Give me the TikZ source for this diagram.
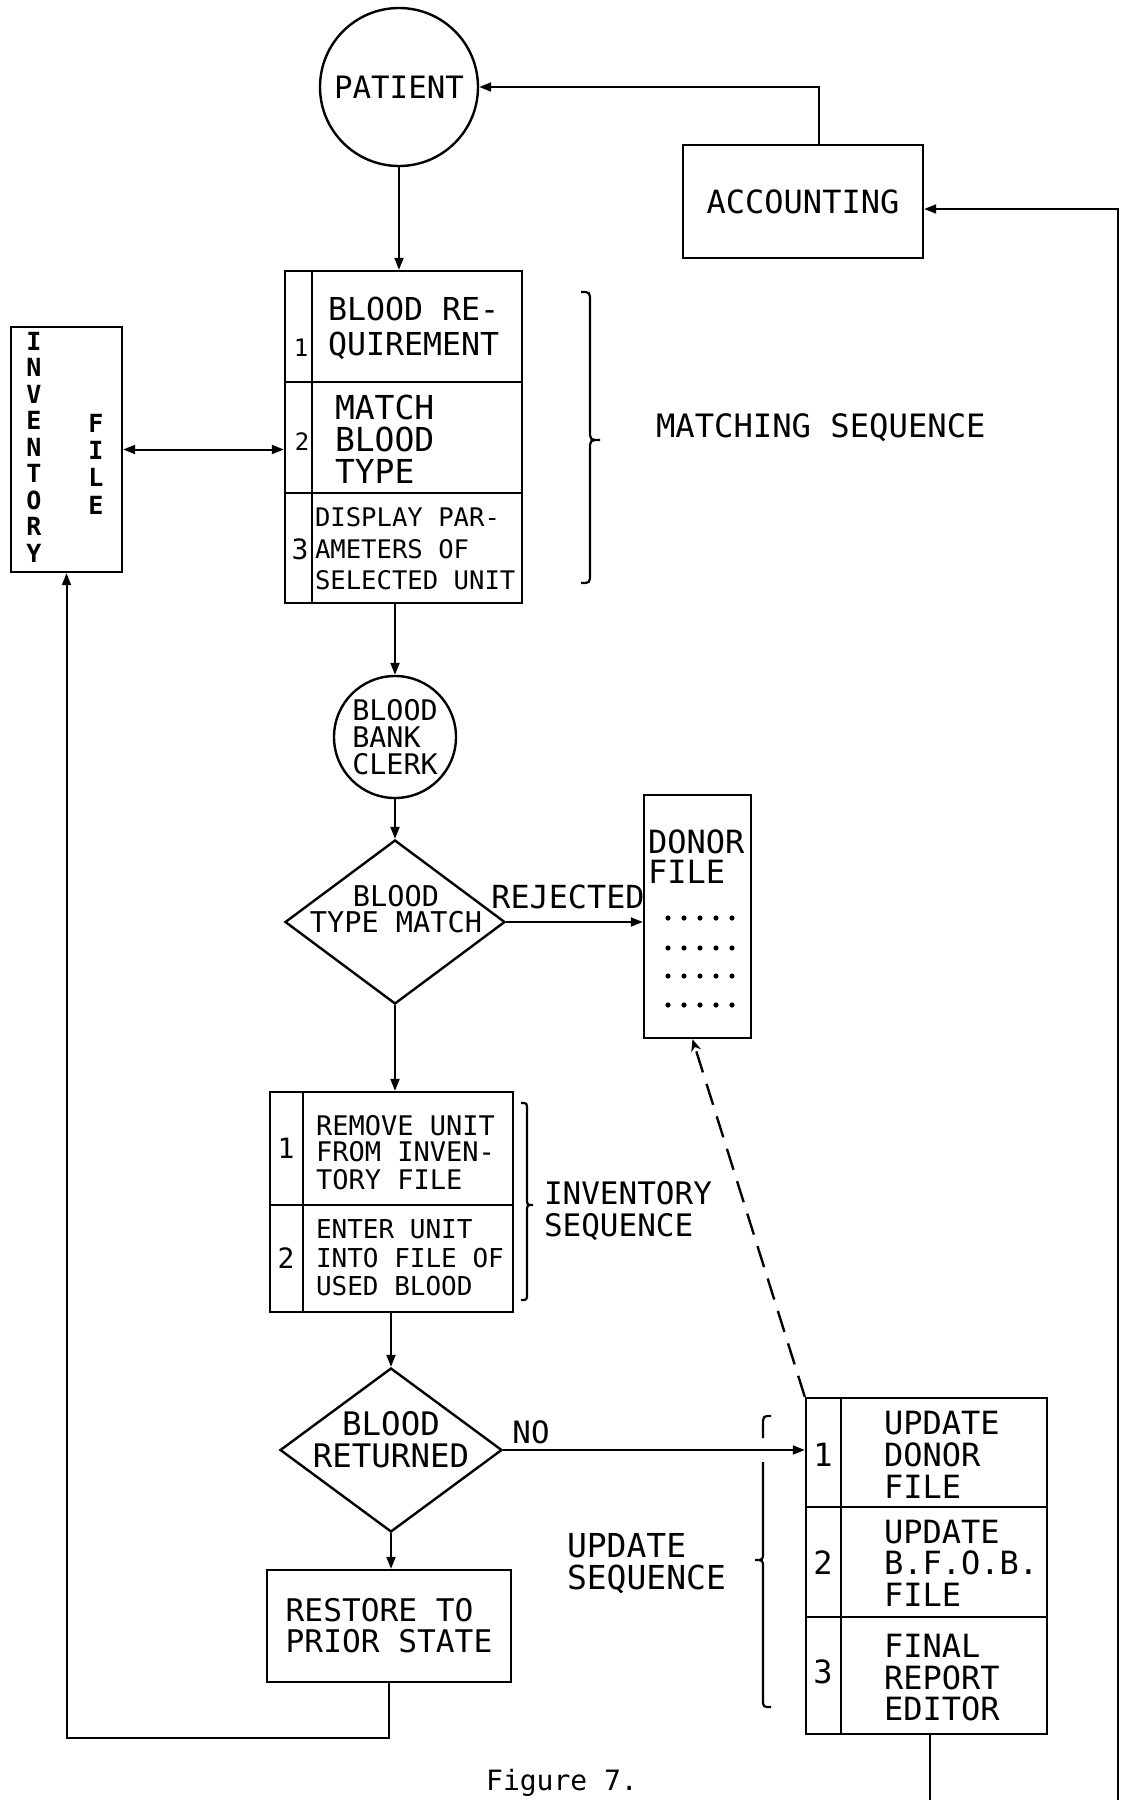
\documentclass[tikz,border=0pt]{standalone}
\usepackage{fontspec}
\setmainfont{DejaVu Sans Mono}
\usetikzlibrary{shapes.geometric,arrows.meta,fit}
\newcommand{\myfs}[2]{\fontsize{#1pt}{#2pt}\selectfont}
\begin{document}
\begin{tikzpicture}[x=0.5pt,y=-0.5pt, line width=1pt,
  box/.style={draw, line width=1.2pt, inner sep=0pt},
  arr/.style={-{Triangle[length=6pt,width=4.5pt]}},
  dblarr/.style={{Triangle[length=6pt,width=4.5pt]}-{Triangle[length=6pt,width=4.5pt]}},
  dasharr/.style={dash pattern=on 11pt off 6pt, line width=1.2pt, -{Stealth[length=6pt,width=5pt]}},
  txt/.style={inner sep=0pt, align=left},
  brc/.style={line width=1.1pt}]
\useasboundingbox[fill=white] (0,0) rectangle (1129,1800);

% ---------- top ----------
\node[box, circle, minimum size=79pt, font=\myfs{15.4}{16}] (patient) at (399,87) {PATIENT};
\node[box, minimum width=120pt, minimum height=56.5pt, font=\myfs{16}{17}] (acc) at (803,201.5) {ACCOUNTING};

% ---------- matching sequence box ----------
\node[box, fit={(285,271) (522,603)}] (mbox) {};
\draw (312,271) -- (312,603);
\draw (285,382) -- (522,382);
\draw (285,493) -- (522,493);
\node[font=\myfs{12}{12}, inner sep=0] at (301,348) {1};
\node[font=\myfs{12}{12}, inner sep=0] at (302,442) {2};
\node[font=\myfs{14}{14}, inner sep=0] at (300,549) {3};
\node[txt, anchor=west, font=\myfs{15.8}{17.5}] at (327,328.5) {BLOOD RE-\\QUIREMENT};
\node[txt, anchor=west, font=\myfs{16.5}{16}] at (334,439) {MATCH\\BLOOD\\TYPE};
\node[txt, anchor=west, font=\myfs{12.8}{15.75}] at (314,549) {DISPLAY PAR-\\AMETERS OF\\SELECTED UNIT};
\draw[brc] (581,292) .. controls (590,292) .. (590,302) -- (590,430) .. controls (590,440) .. (600,440) .. controls (590,440) .. (590,450) -- (590,573) .. controls (590,583) .. (581,583);
\node[txt, anchor=west, font=\myfs{16.1}{16}] at (655,428) {MATCHING SEQUENCE};

% ---------- inventory file ----------
\node[box, fit={(11,327) (122,572)}] (inv) {};
\node[font=\bfseries\myfs{12.5}{13.25}, align=center, inner sep=0] at (34,447) {I\\N\\V\\E\\N\\T\\O\\R\\Y};
\node[font=\bfseries\myfs{12.5}{13.65}, align=center, inner sep=0] at (96,464) {F\\I\\L\\E};

% ---------- clerk, decision 1, donor file ----------
\node[box, circle, minimum size=61pt, align=left, font=\myfs{14.2}{13.5}] (clerk) at (395,737) {BLOOD\\BANK\\CLERK};
\node[box, diamond, minimum width=110pt, minimum height=82pt] (d1) at (395,922) {};
\node[align=center, inner sep=0, font=\myfs{14.3}{12.8}] at (396,909) {BLOOD\\TYPE MATCH};
\node[inner sep=0, font=\myfs{15.9}{16}] at (568,897) {REJECTED};
\node[box, fit={(644,795) (751,1038)}] (donor) {};
\node[txt, anchor=west, font=\myfs{16}{15}] at (647,857) {DONOR\\FILE};
\foreach \yy in {918,948,976,1005}
  \foreach \xx in {668,684,700,716,732}
    \fill (\xx,\yy) circle (1.3pt);

% ---------- inventory sequence box ----------
\node[box, fit={(270,1092) (513,1312)}] (ibox) {};
\draw (303,1092) -- (303,1312);
\draw (270,1205) -- (513,1205);
\node[font=\myfs{14}{14}, inner sep=0] at (286,1148) {1};
\node[font=\myfs{14}{14}, inner sep=0] at (286,1258) {2};
\node[txt, anchor=west, font=\myfs{13.5}{14}] at (315,1126) {REMOVE UNIT};
\node[txt, anchor=west, font=\myfs{13.5}{14}] at (315,1152) {FROM INVEN-};
\node[txt, anchor=west, font=\myfs{13.5}{14}] at (315,1180) {TORY FILE};
\node[txt, anchor=west, font=\myfs{13}{14.25}] at (315,1258) {ENTER UNIT\\INTO FILE OF\\USED BLOOD};
\draw[brc] (521,1103) .. controls (527,1103) .. (527,1110) -- (527,1198) .. controls (527,1205) .. (533,1205) .. controls (527,1205) .. (527,1212) -- (527,1293) .. controls (527,1300) .. (521,1300);
\node[txt, anchor=west, font=\myfs{15.5}{16}] at (543,1211) {INVENTORY\\SEQUENCE};

% ---------- decision 2, restore ----------
\node[box, diamond, minimum width=111pt, minimum height=82pt] (d2) at (391,1450) {};
\node[align=center, inner sep=0, font=\myfs{16.2}{16}] at (391,1440) {BLOOD\\RETURNED};
\node[inner sep=0, font=\myfs{15.4}{16}] at (531,1432) {NO};
\node[box, minimum width=122pt, minimum height=56pt, align=left, font=\myfs{15.6}{15.5}] (restore) at (389,1626) {RESTORE TO\\PRIOR STATE};

% ---------- update sequence box ----------
\node[box, fit={(806,1398) (1047,1734)}] (ubox) {};
\draw (841,1398) -- (841,1734);
\draw (806,1507) -- (1047,1507);
\draw (806,1617) -- (1047,1617);
\node[font=\myfs{16}{16}, inner sep=0] at (823,1455) {1};
\node[font=\myfs{16}{16}, inner sep=0] at (823,1563) {2};
\node[font=\myfs{16}{16}, inner sep=0] at (823,1672) {3};
\node[txt, anchor=west, font=\myfs{16}{16}] at (883,1455) {UPDATE\\DONOR\\FILE};
\node[txt, anchor=west, font=\myfs{16}{15.75}] at (883,1563) {UPDATE\\B.F.O.B.\\FILE};
\node[txt, anchor=west, font=\myfs{16}{15.75}] at (883,1678) {FINAL\\REPORT\\EDITOR};
\draw[brc] (771,1416) .. controls (763,1416) .. (763,1426) -- (763,1438);
\draw[brc] (763,1462) -- (763,1552) .. controls (763,1560) .. (755,1560) .. controls (763,1560) .. (763,1568) -- (763,1699) .. controls (763,1707) .. (771,1707);
\node[txt, anchor=west, font=\myfs{16.5}{16}] at (566,1564) {UPDATE\\SEQUENCE};

\node[anchor=south, inner sep=0, font=\myfs{14}{14}] (fig) at (562,1797) {Figure 7.};

% ---------- connectors ----------
\draw[arr] (patient.south) -- (patient.south |- mbox.north);
\draw[arr] ([xshift=8pt]acc.north) |- (patient.east);
\coordinate (rb) at (1118,1800);
\draw[arr] (rb) |- ([yshift=-3.75pt]acc.east);
\draw[dblarr] (inv.east) -- (inv.east -| mbox.west);
\draw[arr] (mbox.south -| clerk.north) -- (clerk.north);
\draw[arr] (clerk.south) -- (d1.north);
\draw[arr] (d1.east) -- (d1.east -| donor.west);
\draw[arr] (d1.south) -- (d1.south |- ibox.north);
\draw[arr] (ibox.south -| d2.north) -- (d2.north);
\draw[arr] (d2.east) -- (d2.east -| ubox.west);
\draw[arr] (d2.south) -- (d2.south |- restore.north);
\draw[arr] (restore.south) -- ++(0,55) -| (inv.south);
\draw[dasharr] (ubox.north west) -- ([xshift=-2.5pt]donor.south);
\coordinate (ub) at (930,1800);
\draw (ubox.south -| ub) -- (ub);
\end{tikzpicture}
\end{document}
